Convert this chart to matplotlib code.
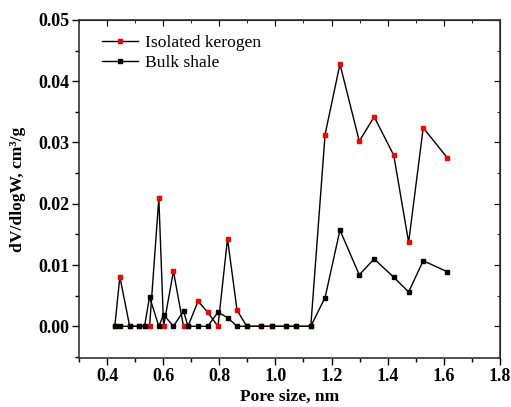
import matplotlib.pyplot as plt
from matplotlib.ticker import MultipleLocator

plt.rcParams['font.family'] = ['Liberation Serif', 'DejaVu Serif']

# pore size (nm) shared by both series
pore_size = [0.427, 0.445, 0.480, 0.515, 0.533, 0.551, 0.584, 0.601, 0.636, 0.672,
             0.688, 0.724, 0.758, 0.795, 0.829, 0.863, 0.898, 0.950, 0.986, 1.038,
             1.073, 1.126, 1.177, 1.230, 1.299, 1.352, 1.422, 1.475, 1.527, 1.613]

kerogen = [0.0, 0.0081, 0.0, 0.0, 0.0, 0.0, 0.0209, 0.0, 0.0090, 0.0,
           0.0, 0.0041, 0.0023, 0.0, 0.0143, 0.0026, 0.0, 0.0, 0.0, 0.0,
           0.0, 0.0, 0.0313, 0.0428, 0.0302, 0.0342, 0.0279, 0.0137, 0.0324, 0.0275]

bulk = [0.0, 0.0, 0.0, 0.0, 0.0, 0.0048, 0.0, 0.0019, 0.0, 0.0025,
        0.0, 0.0, 0.0, 0.0023, 0.0014, 0.0, 0.0, 0.0, 0.0, 0.0,
        0.0, 0.0, 0.0047, 0.0157, 0.0084, 0.0110, 0.0080, 0.0056, 0.0107, 0.0089]

fig = plt.figure(figsize=(5.11, 4.07), dpi=100)
ax = fig.add_axes([0.155, 0.120, 0.823, 0.831])

ax.plot(pore_size, kerogen, color='black', lw=1, marker='s', ms=2.2,
        mfc='red', mec='red', label='Isolated kerogen')
ax.plot(pore_size, bulk, color='black', lw=1, marker='s', ms=2.2,
        mfc='black', mec='black', label='Bulk shale')

ax.set_xlim(0.3, 1.8)
ax.set_ylim(-0.0052, 0.05)
ax.xaxis.set_minor_locator(MultipleLocator(0.1))
ax.yaxis.set_minor_locator(MultipleLocator(0.005))
ax.set_xticks([0.4, 0.6, 0.8, 1.0, 1.2, 1.4, 1.6, 1.8])
ax.set_xticklabels(['0.4', '0.6', '0.8', '1.0', '1.2', '1.4', '1.6', '1.8'])
ax.set_yticks([0.0, 0.01, 0.02, 0.03, 0.04, 0.05])
ax.set_yticklabels(['0.00', '0.01', '0.02', '0.03', '0.04', '0.05'])

ax.tick_params(which='both', direction='out', top=False, right=False,
               labelsize=13, width=1, pad=2)
ax.tick_params(which='major', length=5)
ax.tick_params(which='minor', length=3)
for lab in ax.get_xticklabels() + ax.get_yticklabels():
    lab.set_fontweight('bold')

sec = ax.secondary_xaxis('top')
sec.xaxis.set_major_locator(MultipleLocator(0.2))
sec.xaxis.set_minor_locator(MultipleLocator(0.1))
sec.tick_params(which='both', direction='in', labeltop=False)
sec.tick_params(which='major', length=4)
sec.tick_params(which='minor', length=2.5)
secy = ax.secondary_yaxis('right')
secy.yaxis.set_major_locator(MultipleLocator(0.01))
secy.yaxis.set_minor_locator(MultipleLocator(0.005))
secy.tick_params(which='both', direction='in', labelright=False)
secy.tick_params(which='major', length=4)
secy.tick_params(which='minor', length=2.5)

for s in ax.spines.values():
    s.set_linewidth(1.2)
    s.set_color('#333333')

ax.set_xlabel('Pore size, nm', fontsize=12.6, fontweight='bold', labelpad=3)
ax.set_ylabel('dV/dlogW, cm³/g', fontsize=12.6, fontweight='bold', labelpad=9)
ax.legend(loc='upper left', bbox_to_anchor=(0.038, 0.976), frameon=False,
          fontsize=12.6, handlelength=2.05, borderaxespad=0,
          labelspacing=0.2, handletextpad=0.4)

fig.savefig('out.png', dpi=100)
